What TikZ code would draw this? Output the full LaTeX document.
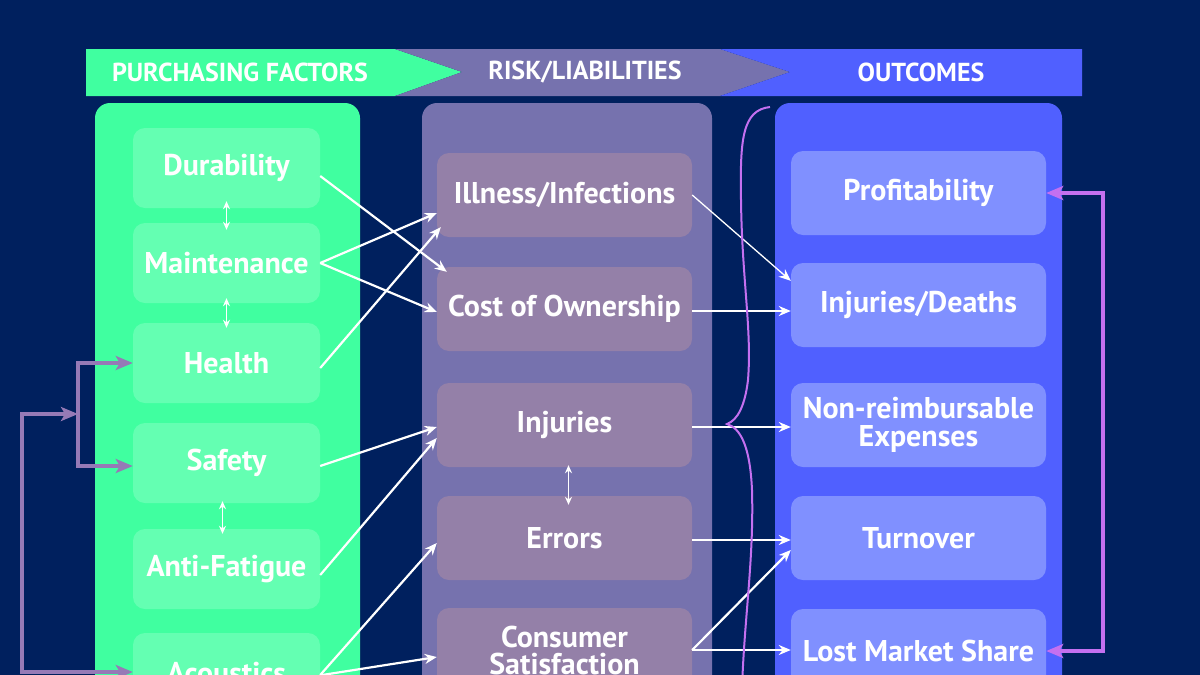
\documentclass[tikz,border=0pt]{standalone}
\usepackage{fontspec}
\setmainfont{PT Sans}
\usetikzlibrary{arrows.meta,calc}

\definecolor{navy}{RGB}{0,32,94}
\definecolor{mint}{RGB}{64,255,160}
\definecolor{mintbox}{RGB}{100,255,178}
\definecolor{risk}{RGB}{118,114,174}
\definecolor{riskbox}{RGB}{148,128,168}
\definecolor{outc}{RGB}{80,96,255}
\definecolor{outcbox}{RGB}{128,144,255}
\definecolor{bracecol}{RGB}{196,112,240}
\definecolor{loopcol}{RGB}{150,122,182}

\begin{document}
\begin{tikzpicture}[x=1pt,y=-1pt,
  fat/.tip={Stealth[length=17pt,width=14pt,inset=4pt]},
  factor/.style={fill=mintbox,rounded corners=12pt,minimum width=187pt,minimum height=80pt,text=white,font=\fontsize{30}{30}\selectfont\bfseries},
  liab/.style={fill=riskbox,rounded corners=12pt,minimum width=255pt,minimum height=84pt,text=white,font=\fontsize{30}{30}\selectfont\bfseries,align=center},
  outcome/.style={fill=outcbox,rounded corners=12pt,minimum width=255pt,minimum height=84pt,text=white,font=\fontsize{30}{30}\selectfont\bfseries,align=center},
  head/.style={text=white,font=\fontsize{26}{27}\selectfont\bfseries},
  link/.style={white,line width=2.2pt,-{Stealth[length=12pt,width=10pt]}},
  twoway/.style={white,line width=1.5pt,{Stealth[length=8pt,width=7pt]}-{Stealth[length=8pt,width=7pt]}},
  lconn/.style={loopcol,line width=3.8pt},
  rconn/.style={bracecol,line width=3.8pt}]
\useasboundingbox (0,0) rectangle (1200,675);
\clip (0,0) rectangle (1200,675);
\fill [navy] (0,0) rectangle (1200,675);
% header banner
\fill [mint] (86,49) -- (395,49) -- (462,72) -- (395,96) -- (86,96) -- cycle;
\fill [risk] (395,49) -- (720,49) -- (790,72) -- (720,96) -- (395,96) -- (462,72) -- cycle;
\fill [outc] (720,49) -- (1082,49) -- (1082,96) -- (720,96) -- (790,72) -- cycle;
\node [head] (hfac) at (240,72) {PURCHASING FACTORS};
\node [head] (hrisk) at (585,72) {RISK/LIABILITIES};
\node [head] (hout) at (921,72) {OUTCOMES};
% columns
\fill [mint, rounded corners=15pt] (95,103) rectangle (360,720);
\fill [risk, rounded corners=15pt] (422,103) rectangle (712,720);
\fill [outc, rounded corners=15pt] (775,103) rectangle (1062,720);
\node [factor] (dur) at (226.5,168) {Durability};
\node [factor] (mai) at (226.5,263) {Maintenance};
\node [factor] (hea) at (226.5,363) {Health};
\node [factor] (saf) at (226.5,463) {Safety};
\node [factor] (ant) at (226.5,569) {Anti-Fatigue};
\node [factor] (aco) at (226.5,673) {Acoustics};
\node [liab] (ill) at (564.5,195) {Illness/Infections};
\node [liab] (cost) at (564.5,309) {Cost of Ownership};
\node [liab] (inj) at (564.5,425) {Injuries};
\node [liab] (err) at (564.5,538) {Errors};
\node [liab] (con) at (564.5,650) {Consumer\\[-3pt]Satisfaction};
\node [outcome] (pro) at (918.5,193) {Profitability};
\node [outcome] (ijd) at (918.5,305) {Injuries/Deaths};
\node [outcome] (non) at (918.5,425) {Non-reimbursable\\[-2pt]Expenses};
\node [outcome] (tur) at (918.5,538) {Turnover};
\node [outcome] (los) at (918.5,651) {Lost Market Share};
% two way links
\draw [twoway, shorten <=-7pt, shorten >=-7pt] (dur.south) -- (mai.north);
\draw [twoway, shorten <=-5pt, shorten >=-5pt] (mai.south) -- (hea.north);
\draw [twoway, shorten <=-2pt, shorten >=-5pt] ($(saf.south)+(-4,0)$) -- ($(ant.north)+(-4,0)$);
\draw [twoway, shorten <=-2pt, shorten >=-9pt] ($(inj.south)+(4,0)$) -- ($(err.north)+(4,0)$);
% factors to risks
\draw [link] ($(dur.east)+(0,8)$) -- ($(cost.north west)+(10,5)$);
\draw [link] (mai.east) -- ($(ill.west)+(0,18)$);
\draw [link] (mai.east) -- ($(cost.west)+(0,3)$);
\draw [link] ($(hea.east)+(0,5)$) -- ($(ill.south west)+(4,-10)$);
\draw [link] ($(saf.east)+(0,3)$) -- ($(inj.west)+(0,2)$);
\draw [link] ($(ant.east)+(0,6)$) -- ($(inj.west)+(0,13)$);
\draw [link] ($(aco.east)+(0,2)$) -- ($(err.west)+(0,5)$);
\draw [link] ($(aco.east)+(2,2)$) -- ($(con.west)+(0,7)$);
% risks to outcomes
\draw [link, line width=1.3pt] (ill.east) -- ($(ijd.north west)+(0,18)$);
\draw [link] ($(cost.east)+(0,2)$) -- ($(cost.east -| ijd.west)+(0,2)$);
\draw [link] ($(inj.east)+(0,2)$) -- ($(inj.east -| non.west)+(0,2)$);
\draw [link] ($(err.east)+(0,2)$) -- ($(err.east -| tur.west)+(0,2)$);
\draw [link] (con.east) -- ($(tur.west)+(0,12)$);
\draw [link] (con.east) -- (con.east -| los.west);
% brace
\draw [bracecol, line width=2pt] (770,107) .. controls (742,110) and (740,140) .. (741,200)
  .. controls (742,280) and (752,330) .. (748,380) .. controls (745,405) and (738,420) .. (727,424)
  .. controls (740,428) and (750,445) .. (752,490) .. controls (754,560) and (744,620) .. (742,690);
% loops
\coordinate (jn) at (78,414);
\coordinate (lft) at (22,672);
\coordinate (rgt) at (1103,193);
\draw [lconn, fat-fat] (jn) -| (lft) -- (aco.west |- lft);
\draw [lconn, -fat] (jn) |- (hea.west);
\draw [lconn, -fat] (jn) |- ($(saf.west)+(0,3)$);
\draw [rconn, fat-fat] (pro.east) -| (rgt) |- (los.east);
\end{tikzpicture}
\end{document}
